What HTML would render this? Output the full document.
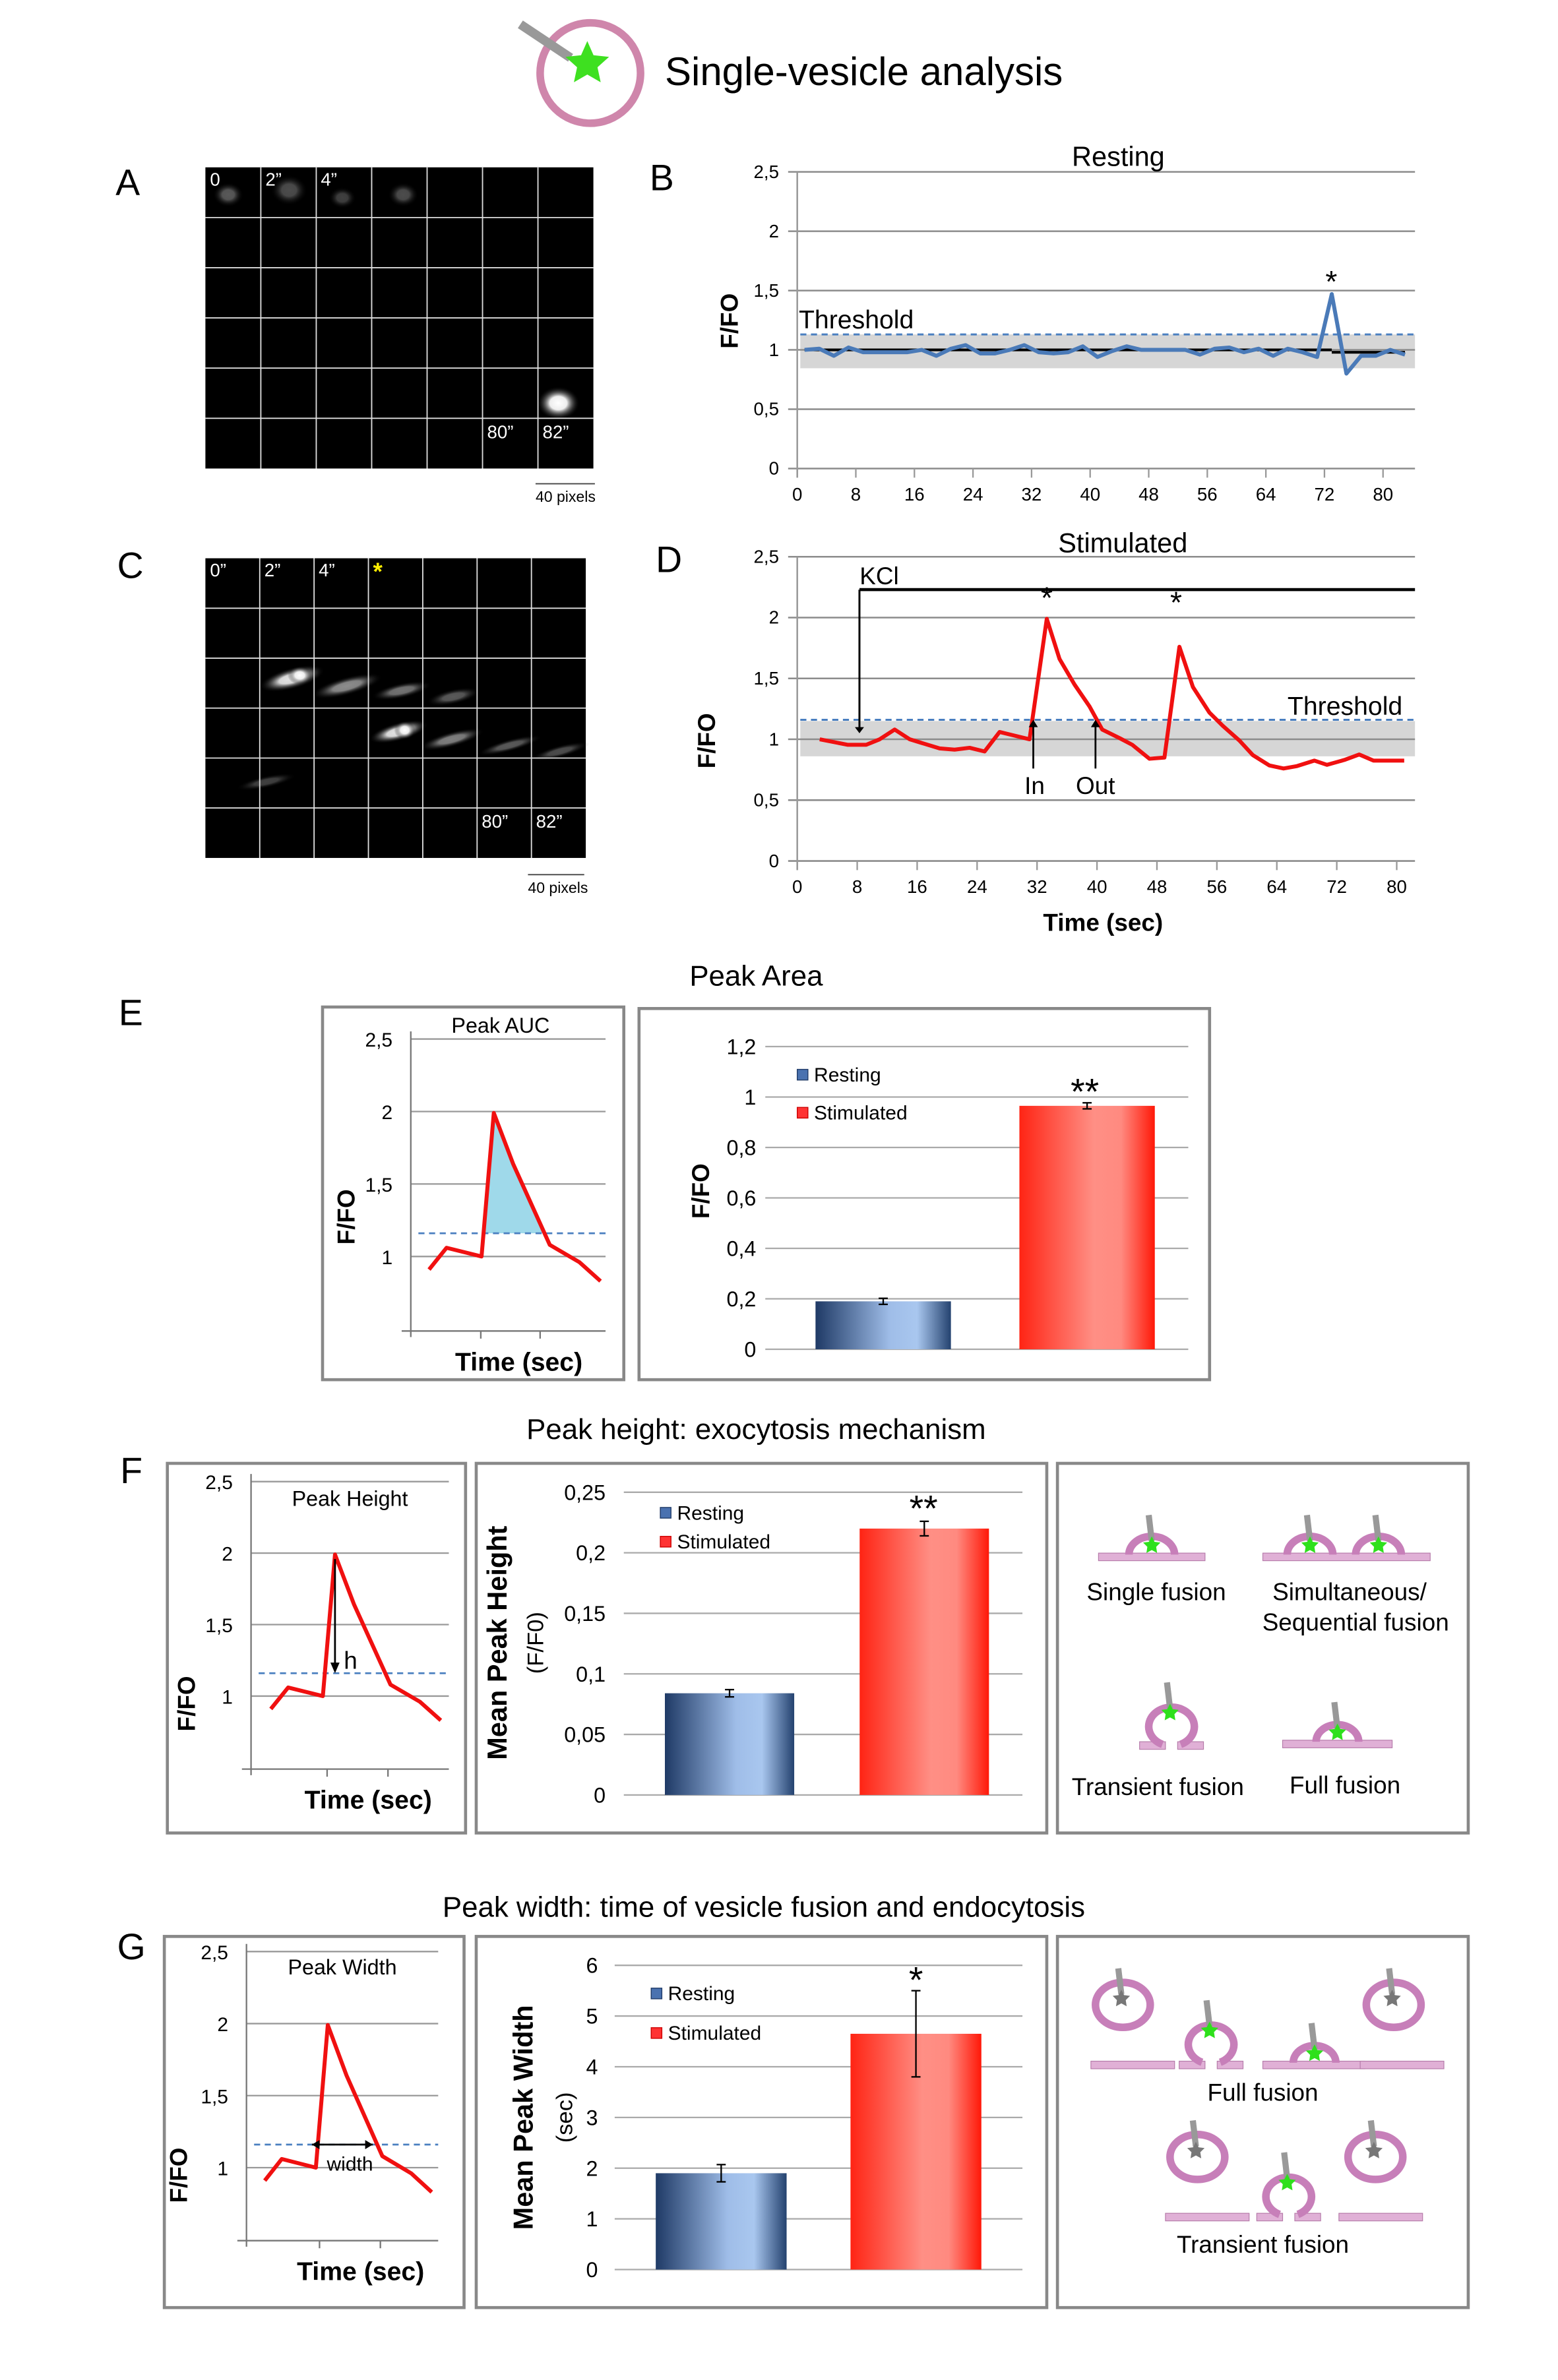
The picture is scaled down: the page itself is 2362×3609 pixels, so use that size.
<!DOCTYPE html>
<html><head><meta charset="utf-8"><style>
html,body{margin:0;padding:0;background:#fff}
svg{display:block}
text{font-family:"Liberation Sans",Arial,sans-serif}
</style></head><body>
<svg id="fig" width="2362" height="3609" viewBox="0 0 1024 1564.6" xmlns="http://www.w3.org/2000/svg">
<defs>
<linearGradient id="gBlue" x1="0" x2="1" y1="0" y2="0"><stop offset="0" stop-color="#1f3a66"/><stop offset="0.55" stop-color="#9fbde8"/><stop offset="0.75" stop-color="#a9c7ef"/><stop offset="1" stop-color="#24426f"/></linearGradient>
<linearGradient id="gRed" x1="0" x2="1" y1="0" y2="0"><stop offset="0" stop-color="#ff2414"/><stop offset="0.55" stop-color="#ff8f85"/><stop offset="0.75" stop-color="#ff8a80"/><stop offset="1" stop-color="#ff1808"/></linearGradient>
<radialGradient id="gSpot"><stop offset="0" stop-color="#fff"/><stop offset="0.4" stop-color="#eee"/><stop offset="1" stop-color="#000" stop-opacity="0"/></radialGradient>
</defs>
<g id="root"></g>
</svg>
<script>
// ---------- data ----------
const restT = [1,3,5,7,9,11,13,15,17,19,21,23,25,27,29,31,33,35,37,39,41,43,45,47,49,51,53,55,57,59,61,63,65,67,69,71,73,75,77,79,81,83];
const restV = [1.0,1.01,0.95,1.02,0.98,0.98,0.98,0.98,1.0,0.95,1.01,1.04,0.97,0.97,1.0,1.04,0.98,0.97,0.98,1.03,0.94,0.99,1.03,1.0,1.0,1.0,1.0,0.96,1.01,1.02,0.98,1.01,0.95,1.01,0.98,0.94,1.47,0.8,0.95,0.95,1.0,0.96];
const stimT = [3,6.7,9.2,11,13,15,16.6,19,21,23,25,27,29,31,33.3,35,37,39,40.7,43,44.7,47,49,51,52.8,55,56.8,59,60.8,63,64.9,66.7,69,70.7,73,75,76.9,81];
const stimV = [1.0,0.955,0.955,1.0,1.08,1.0,0.97,0.925,0.915,0.93,0.9,1.06,1.03,1.0,1.99,1.66,1.45,1.27,1.08,1.01,0.955,0.84,0.85,1.76,1.43,1.22,1.11,0.99,0.87,0.785,0.76,0.78,0.825,0.79,0.83,0.875,0.825,0.825];
const timeTicks = [0,8,16,24,32,40,48,56,64,72,80];
const ffTicks = [0,0.5,1,1.5,2,2.5];
const exT = [0,1,3,3.7,4.8,6.9,8.6,9.8];
const exV = [0.91,1.06,1.0,1.99,1.64,1.08,0.96,0.83];
const exThreshold = 1.16;
const barCats = ['Resting','Stimulated'];
const areaVals = [0.19,0.965];
const areaErr = [0.012,0.012];
const areaTicks = [0,0.2,0.4,0.6,0.8,1,1.2];
const heightVals = [0.084,0.22];
const heightErr = [0.003,0.006];
const heightTicks = [0,0.05,0.1,0.15,0.2,0.25];
const widthVals = [1.9,4.65];
const widthErr = [0.17,0.85];
const widthTicks = [0,1,2,3,4,5,6];

// ---------- helpers ----------
const NS='http://www.w3.org/2000/svg';
const root=document.getElementById('root');
function mk(tag, attrs, name, parent){
  const el=document.createElementNS(NS,tag);
  for(const k in attrs) el.setAttribute(k,attrs[k]);
  
  
  (parent||root).appendChild(el);
  return el;
}
function txt(x,y,s,size,name,extra){
  const a=Object.assign({x:x,y:y,'font-size':size,fill:'#000'},extra||{});
  const t=mk('text',a,name);
  t.textContent=s;
  return t;
}
function fmt(v){return String(v).replace('.',',');}
function ln(x1,y1,x2,y2,stroke,w,name,extra){
  return mk('line',Object.assign({x1:x1,y1:y1,x2:x2,y2:y2,stroke:stroke,'stroke-width':w},extra||{}),name);
}

// ---------- header ----------
mk('circle',{cx:388,cy:48,r:33,fill:'#fff',stroke:'#cf86ab','stroke-width':5},'header-vesicle-icon');
mk('line',{x1:342,y1:16,x2:375,y2:38,stroke:'#999','stroke-width':6},'header-pipette');
mk('polygon',{points:star(386,42,15,7),fill:'#3ee020'},'header-green-star');
txt(437,56,'Single-vesicle analysis',26,'figure-title');
function star(cx,cy,R,r){let p=[];for(let i=0;i<10;i++){const a=-Math.PI/2+i*Math.PI/5;const rr=i%2?r:R;p.push((cx+rr*Math.cos(a)).toFixed(1)+','+(cy+rr*Math.sin(a)).toFixed(1));}return p.join(' ');}

// panel letters
[['A',76,128],['B',427,125],['C',77,380],['D',431,376],['E',78,674],['F',79,975],['G',77,1288]].forEach(l=>{
  txt(l[1],l[2],l[0],24,'panel-label-'+l[0].toLowerCase());
});

// ---------- image panels A & C ----------
function imgPanel(x0,y0,w,h,labelsTop,name,spots,starMark){
  mk('rect',{x:x0,y:y0,width:w,height:h,fill:'#000'},name+'-image');
  spots.forEach((s,i)=>{
    mk('ellipse',{cx:s[0],cy:s[1],rx:s[2],ry:s[3],fill:'url(#gSpot)',opacity:s[4],transform:'rotate('+(s[5]||0)+' '+s[0]+' '+s[1]+')'},name+'-spot');
  });
  for(let i=1;i<7;i++) ln(x0+w*i/7,y0,x0+w*i/7,y0+h,'#ddd',0.8,name+'-grid-v');
  for(let j=1;j<6;j++) ln(x0,y0+h*j/6,x0+w,y0+h*j/6,'#ddd',0.8,name+'-grid-h');
  labelsTop.forEach((s,i)=>txt(x0+3+w*i/7,y0+12,s,12,name+'-time-label',{fill:'#fff'}));
  txt(x0+3+w*5/7,y0+h*5/6+13,'80\u201d',12,name+'-time-label',{fill:'#fff'});
  txt(x0+3+w*6/7,y0+h*5/6+13,'82\u201d',12,name+'-time-label',{fill:'#fff'});
  if(starMark) txt(x0+3+w*3/7,y0+14,'*',16,name+'-yellow-star',{fill:'#ffee00','font-weight':'bold'});
}
imgPanel(135,110,255,198,['0','2\u201d','4\u201d'],'panel-a',[[367,265,14,11,1],[150,128,10,8,0.35],[190,125,12,10,0.3],[265,128,10,8,0.3],[225,130,9,7,0.25]],false);
ln(352,318,391,318,'#444',0.8,'panel-a-scale-bar');
txt(352,330,'40 pixels',10,'panel-a-scale-label');
imgPanel(135,367,250,197,['0\u201d','2\u201d','4\u201d'],'panel-c',[[192,446,22,7,0.9,-15],[197,444,8,6,1],[228,451,24,6,0.55,-15],[264,454,20,5,0.45,-12],[298,458,18,5,0.35,-12],[262,481,20,6,0.9,-15],[266,480,7,6,1],[297,486,22,5,0.5,-15],[335,490,22,4,0.35,-15],[368,494,20,4,0.3,-15],[175,514,20,4,0.25,-12]],true);
ln(347,575,384,575,'#444',0.8,'panel-c-scale-bar');
txt(347,587,'40 pixels',10,'panel-c-scale-label');

// ---------- line charts B & D ----------
function traceChart(o){
  const xs=t=>o.x0+(t)*o.pxs, ys=v=>o.y0-v*o.pyu;
  mk('rect',{x:o.x0+2,y:ys(o.bandTop),width:o.xEnd-o.x0-2,height:ys(o.bandBot)-ys(o.bandTop),fill:'#d6d6d6'},o.n+'-noise-band');
  ffTicks.forEach(v=>{
    ln(o.x0-6,ys(v),o.xEnd,ys(v),'#8c8c8c',1.1,o.n+'-gridline');
    txt(o.x0-12,ys(v)+4,fmt(v),12,o.n+'-y-tick-label',{'text-anchor':'end'});
  });
  ln(o.x0,ys(2.5),o.x0,ys(0)+6,'#999',1.1,o.n+'-y-axis');
  timeTicks.forEach(t=>{
    ln(xs(t),ys(0),xs(t),ys(0)+6,'#999',1,o.n+'-x-tick');
    txt(xs(t),ys(0)+21,String(t),12,o.n+'-x-tick-label',{'text-anchor':'middle'});
  });
  ln(o.x0+2,ys(o.thr),o.xEnd,ys(o.thr),'#4a7fc0',1.3,o.n+'-threshold-line',{'stroke-dasharray':'4 3'});
  txt(o.tx,o.ty,o.title,18,o.n+'-title',{'text-anchor':'middle'});
  const fy=o.ylabY, fx=o.ylabX;
  txt(fx,fy,'F/FO',16,o.n+'-y-axis-title',{'font-weight':'bold','text-anchor':'middle',transform:'rotate(-90 '+fx+' '+fy+')'});
  return {xs:xs,ys:ys};
}
const B={n:'chart-b',x0:524,pxs:4.8125,y0:308,pyu:78,xEnd:930,bandTop:1.13,bandBot:0.845,thr:1.13,title:'Resting',tx:735,ty:109,ylabX:485,ylabY:211};
const bs=traceChart(B);
ln(bs.xs(1),bs.ys(1.0),bs.xs(73),bs.ys(1.0),'#000',1.8,'chart-b-baseline');
ln(bs.xs(73),bs.ys(0.98),bs.xs(83),bs.ys(0.98),'#000',1.8,'chart-b-baseline-end');
mk('polyline',{points:restT.map((t,i)=>bs.xs(t)+','+bs.ys(restV[i])).join(' '),fill:'none',stroke:'#4a7ab8','stroke-width':2.6,'stroke-linejoin':'round'},'chart-b-resting-trace');
txt(525,216,'Threshold',17,'chart-b-threshold-label');
txt(875,192,'*',20,'chart-b-peak-star',{'text-anchor':'middle'});

const D={n:'chart-d',x0:524,pxs:4.925,y0:566,pyu:80,xEnd:930,bandTop:1.15,bandBot:0.86,thr:1.16,title:'Stimulated',tx:738,ty:363,ylabX:470,ylabY:487};
const ds=traceChart(D);
ln(ds.xs(8.3),ds.ys(2.23),930,ds.ys(2.23),'#000',2,'chart-d-kcl-bar');
ln(ds.xs(8.3),ds.ys(2.23),ds.xs(8.3),ds.ys(1.07),'#000',1.3,'chart-d-kcl-arrow');
mk('polygon',{points:[ds.xs(8.3)-3,ds.ys(1.1),ds.xs(8.3)+3,ds.ys(1.1),ds.xs(8.3),ds.ys(1.05)].join(' ')},'chart-d-kcl-arrowhead');
txt(565,384,'KCl',16,'chart-d-kcl-label');
mk('polyline',{points:stimT.map((t,i)=>ds.xs(t)+','+ds.ys(stimV[i])).join(' '),fill:'none',stroke:'#f01010','stroke-width':2.6,'stroke-linejoin':'round'},'chart-d-stimulated-trace');
[[31.5,'In',680],[39.8,'Out',720]].forEach(a=>{
  ln(ds.xs(a[0]),ds.ys(0.76),ds.xs(a[0]),ds.ys(1.14),'#000',1.2,'chart-d-'+a[1].toLowerCase()+'-arrow');
  mk('polygon',{points:[ds.xs(a[0])-3,ds.ys(1.1),ds.xs(a[0])+3,ds.ys(1.1),ds.xs(a[0]),ds.ys(1.16)].join(' ')},'chart-d-arrowhead');
  txt(a[2],522,a[1],16,'chart-d-'+a[1].toLowerCase()+'-label',{'text-anchor':'middle'});
});
txt(884,470,'Threshold',17,'chart-d-threshold-label',{'text-anchor':'middle'});
txt(688,400,'*',20,'chart-d-peak1-star',{'text-anchor':'middle'});
txt(773,403,'*',20,'chart-d-peak2-star',{'text-anchor':'middle'});
txt(725,612,'Time (sec)',16,'chart-d-x-axis-title',{'font-weight':'bold','text-anchor':'middle'});

// ---------- example peak charts ----------
function exampleChart(o){
  mk('rect',{x:o.bx,y:o.by,width:o.bw,height:o.bh,fill:'#fff',stroke:'#888','stroke-width':2},o.n+'-frame');
  const xs=t=>o.cx0+t*o.pxs, ys=v=>o.y1-(v-1)*o.pyu;
  [1,1.5,2,2.5].forEach(v=>{
    ln(o.ax,ys(v),o.xEnd,ys(v),'#999',1,o.n+'-gridline');
    txt(o.ax-12,ys(v)+5,fmt(v),13,o.n+'-y-tick-label',{'text-anchor':'end'});
  });
  ln(o.ax,ys(2.5)-5,o.ax,o.axY+4,'#777',1,o.n+'-y-axis');
  ln(o.ax-6,o.axY,o.xEnd,o.axY,'#777',1,o.n+'-x-axis');
  o.ticks.forEach(x=>ln(x,o.axY,x,o.axY+5,'#777',1,o.n+'-x-tick'));
  const ty=ys(exThreshold);
  if(o.fill){
    let pts=[];
    for(let i=0;i<exT.length-1;i++){
      const a=exV[i],b=exV[i+1];
      if(a>=exThreshold) pts.push([xs(exT[i]),ys(a)]);
      if((a-exThreshold)*(b-exThreshold)<0){const f=(exThreshold-a)/(b-a);pts.push([xs(exT[i]+f*(exT[i+1]-exT[i])),ty]);}
    }
    mk('polygon',{points:pts.map(p=>p.join(',')).join(' '),fill:'#9fd9ea'},o.n+'-auc-fill');
  }
  ln(o.ax+5,ty,o.xEnd,ty,'#4a7fc0',1.2,o.n+'-threshold-line',{'stroke-dasharray':'4 3'});
  mk('polyline',{points:exT.map((t,i)=>xs(t)+','+ys(exV[i])).join(' '),fill:'none',stroke:'#f01010','stroke-width':2.6,'stroke-linejoin':'round'},o.n+'-trace');
  txt(o.tx,o.ty,o.title,14,o.n+'-title',{'text-anchor':'middle'});
  txt(o.tx+12,o.axY+26,'Time (sec)',17,o.n+'-x-axis-title',{'font-weight':'bold','text-anchor':'middle'});
  txt(o.fx,o.fy,'F/FO',16,o.n+'-y-axis-title',{'font-weight':'bold','text-anchor':'middle',transform:'rotate(-90 '+o.fx+' '+o.fy+')'});
  return {xs:xs,ys:ys};
}
txt(497,648,'Peak Area',19,'section-e-title',{'text-anchor':'middle'});
exampleChart({n:'chart-e-example',bx:212,by:662,bw:198,bh:245,cx0:282,pxs:11.5,y1:826,pyu:95.3,ax:270,xEnd:398,axY:875,ticks:[316,355],fill:true,title:'Peak AUC',tx:329,ty:679,fx:233,fy:800});
txt(497,946,'Peak height: exocytosis mechanism',19,'section-f-title',{'text-anchor':'middle'});
const fe=exampleChart({n:'chart-f-example',bx:110,by:962,bw:196,bh:243,cx0:178,pxs:11.4,y1:1115,pyu:94,ax:165,xEnd:295,axY:1163,ticks:[215,255],fill:false,title:'Peak Height',tx:230,ty:990,fx:128,fy:1120});
ln(fe.xs(exT[3]),fe.ys(exV[3])+3,fe.xs(exT[3]),fe.ys(exThreshold)-2,'#000',1.2,'chart-f-height-arrow');
mk('polygon',{points:[fe.xs(exT[3])-3,fe.ys(exThreshold)-7,fe.xs(exT[3])+3,fe.ys(exThreshold)-7,fe.xs(exT[3]),fe.ys(exThreshold)].join(' ')},'chart-f-arrowhead');
txt(226,1097,'h',16,'chart-f-h-label');
txt(502,1260,'Peak width: time of vesicle fusion and endocytosis',19,'section-g-title',{'text-anchor':'middle'});
const ge=exampleChart({n:'chart-g-example',bx:108,by:1273,bw:197,bh:244,cx0:174,pxs:11.2,y1:1425,pyu:94.7,ax:162,xEnd:288,axY:1473,ticks:[210,250],fill:false,title:'Peak Width',tx:225,ty:1298,fx:123,fy:1430});
ln(205,ge.ys(exThreshold),245,ge.ys(exThreshold),'#000',1.2,'chart-g-width-arrow');
mk('polygon',{points:'205,'+ge.ys(exThreshold)+' 210,'+(ge.ys(exThreshold)-3)+' 210,'+(ge.ys(exThreshold)+3)},'chart-g-arrowhead-left');
mk('polygon',{points:'245,'+ge.ys(exThreshold)+' 240,'+(ge.ys(exThreshold)-3)+' 240,'+(ge.ys(exThreshold)+3)},'chart-g-arrowhead-right');
txt(230,1427,'width',13,'chart-g-width-label',{'text-anchor':'middle'});

// ---------- bar charts ----------
function barChart(o){
  mk('rect',{x:o.bx,y:o.by,width:o.bw,height:o.bh,fill:'#fff',stroke:'#888','stroke-width':2},o.n+'-frame');
  const maxT=o.ticks[o.ticks.length-1];
  const ys=v=>o.y0-(v/maxT)*(o.y0-o.yTop);
  o.ticks.forEach(v=>{
    ln(o.gx0,ys(v),o.gx1,ys(v),'#aaa',1,o.n+'-gridline');
    txt(o.lx,ys(v)+5,fmt(v),14,o.n+'-y-tick-label',{'text-anchor':'end'});
  });
  o.vals.forEach((v,i)=>{
    const x=o.barX[i];
    mk('rect',{x:x,y:ys(v),width:o.barW,height:o.y0-ys(v),fill:i?'url(#gRed)':'url(#gBlue)'},o.n+'-bar-'+barCats[i].toLowerCase());
    const cx=x+o.barW/2;
    ln(cx,ys(v+o.err[i]),cx,ys(v-o.err[i]),'#000',1,o.n+'-error-bar');
    ln(cx-3,ys(v+o.err[i]),cx+3,ys(v+o.err[i]),'#000',1,o.n+'-error-cap');
    ln(cx-3,ys(v-o.err[i]),cx+3,ys(v-o.err[i]),'#000',1,o.n+'-error-cap');
  });
  txt(o.star[0],o.star[1],o.star[2],24,o.n+'-significance',{'text-anchor':'middle'});
  barCats.forEach((c,i)=>{
    mk('rect',{x:o.leg[0],y:o.leg[1]+i*o.leg[2]-8,width:7,height:7,fill:i?'#f33':'#4a72b0',stroke:i?'#c00':'#1f3a66','stroke-width':0.6},o.n+'-legend-swatch');
    txt(o.leg[0]+11,o.leg[1]+i*o.leg[2],c,13,o.n+'-legend-entry-'+c.toLowerCase());
  });
  o.ylab.forEach((l,i)=>txt(l[0],l[1],l[2],l[3],o.n+'-y-axis-title-'+i,{'font-weight':l[4]?'bold':'normal','text-anchor':'middle',transform:'rotate(-90 '+l[0]+' '+l[1]+')'}));
}
barChart({n:'chart-e-area',bx:420,by:663,bw:375,bh:244,ticks:areaTicks,vals:areaVals,err:areaErr,y0:887,yTop:688,gx0:503,gx1:781,lx:497,barX:[536,670],barW:89,star:[713,726,'**'],leg:[524,711,25],ylab:[[466,783,'F/FO',16,true]]});
barChart({n:'chart-f-height',bx:313,by:962,bw:375,bh:243,ticks:heightTicks,vals:heightVals,err:heightErr,y0:1180,yTop:981,gx0:410,gx1:672,lx:398,barX:[437,565],barW:85,star:[607,1000,'**'],leg:[434,999,19],ylab:[[333,1080,'Mean Peak Height',18,true],[357,1080,'(F/F0)',15,false]]});
barChart({n:'chart-g-width',bx:313,by:1273,bw:375,bh:244,ticks:widthTicks,vals:widthVals,err:widthErr,y0:1492,yTop:1292,gx0:404,gx1:672,lx:393,barX:[431,559],barW:86,star:[602,1310,'*'],leg:[428,1315,26],ylab:[[350,1392,'Mean Peak Width',18,true],[376,1392,'(sec)',15,false]]});

// ---------- mechanism schematics ----------
const PINK='#c77fb9', MEMB='#e0b0d6';
function membrane(x1,x2,y,name){mk('rect',{x:x1,y:y,width:x2-x1,height:5,fill:MEMB,stroke:'#b57aa9','stroke-width':0.5},name);}
function probe(cx,cy,green,name){
  mk('line',{x1:cx,y1:cy-20,x2:cx+2,y2:cy-3,stroke:'#999','stroke-width':4},name+'-pipette');
  mk('polygon',{points:star(cx+2,cy,6,3),fill:green?'#2ee01c':'#777'},name+'-star');
}
function arch(cx,base,r,name){mk('path',{d:'M'+(cx-r)+','+base+' A'+r+','+r*0.8+' 0 0 1 '+(cx+r)+','+base,fill:'none',stroke:PINK,'stroke-width':5},name);}
function omega(cx,cy,r,name){mk('path',{d:'M'+(cx-6)+','+(cy+r*0.85)+' A'+r+','+r*0.85+' 0 1 1 '+(cx+6)+','+(cy+r*0.85),fill:'none',stroke:PINK,'stroke-width':5},name);}
function ring(cx,cy,r,name){mk('ellipse',{cx:cx,cy:cy,rx:r,ry:r*0.82,fill:'#fff',stroke:PINK,'stroke-width':5},name);}
function frame(x,y,w,h,name){mk('rect',{x:x,y:y,width:w,height:h,fill:'#fff',stroke:'#888','stroke-width':2},name);}
frame(695,962,270,243,'mechanism-box-f');
membrane(722,792,1021,'single-fusion-membrane'); arch(757,1022,15,'single-fusion-vesicle'); probe(755,1016,true,'single-fusion');
membrane(830,940,1021,'sequential-membrane'); arch(861,1022,15,'sequential-vesicle-1'); arch(906,1022,15,'sequential-vesicle-2'); probe(859,1016,true,'sequential-1'); probe(904,1016,true,'sequential-2');
txt(760,1052,'Single fusion',16,'single-fusion-label',{'text-anchor':'middle'});
txt(887,1052,'Simultaneous/',16,'simultaneous-label',{'text-anchor':'middle'});
txt(891,1072,'Sequential fusion',16,'sequential-label',{'text-anchor':'middle'});
membrane(749,766,1145,'transient-membrane-left'); membrane(774,791,1145,'transient-membrane-right'); omega(770,1134,15,'transient-vesicle'); probe(767,1126,true,'transient');
membrane(843,915,1144,'full-fusion-membrane'); arch(879,1145,14,'full-fusion-vesicle'); probe(877,1139,true,'full-fusion');
txt(761,1180,'Transient fusion',16,'transient-fusion-label',{'text-anchor':'middle'});
txt(884,1179,'Full fusion',16,'full-fusion-label',{'text-anchor':'middle'});

frame(695,1273,270,244,'mechanism-box-g');
membrane(717,772,1355,'g-membrane-1'); ring(738,1318,18,'g-ring-1'); probe(735,1314,false,'g-ring-1');
membrane(775,792,1355,'g-membrane-2a'); membrane(800,817,1355,'g-membrane-2b'); omega(796,1343,15,'g-omega-1'); probe(793,1335,true,'g-omega-1');
membrane(830,897,1355,'g-membrane-3'); arch(864,1356,14,'g-arch'); probe(862,1350,true,'g-arch');
membrane(894,949,1355,'g-membrane-4'); ring(916,1318,18,'g-ring-2'); probe(913,1314,false,'g-ring-2');
txt(830,1381,'Full fusion',16,'g-full-fusion-label',{'text-anchor':'middle'});
membrane(766,821,1455,'g-membrane-5'); ring(787,1418,18,'g-ring-3'); probe(784,1414,false,'g-ring-3');
membrane(826,843,1455,'g-membrane-6a'); membrane(851,868,1455,'g-membrane-6b'); omega(847,1443,15,'g-omega-2'); probe(844,1435,true,'g-omega-2');
membrane(880,935,1455,'g-membrane-7'); ring(904,1418,18,'g-ring-4'); probe(901,1414,false,'g-ring-4');
txt(830,1481,'Transient fusion',16,'g-transient-fusion-label',{'text-anchor':'middle'});
</script>
</body></html>
